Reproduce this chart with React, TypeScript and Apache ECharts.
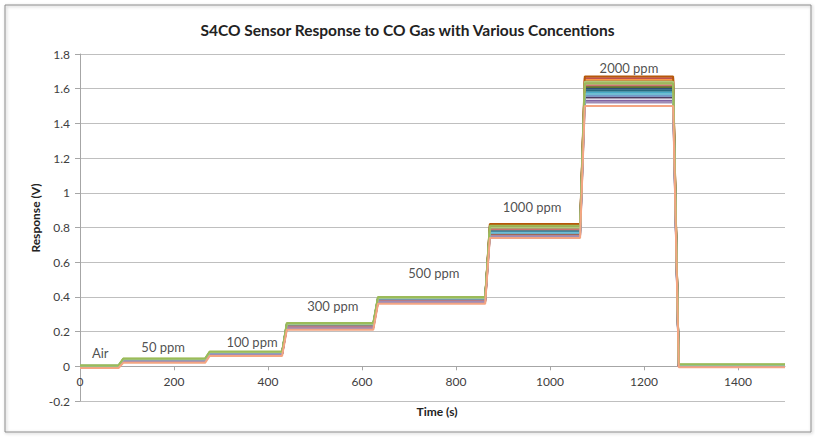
import React, { useEffect, useRef } from "react";
import * as echarts from "echarts";

// Time (s) at which each gas step begins: Air, 50, 100, 300, 500, 1000, 2000 ppm, Air again
const stepTimes = [0, 82, 266, 430, 624, 862, 1064, 1262];
const riseSec = [0, 10, 10, 10, 10, 10, 10, 12];
const endTime = 1500;

// Per-sensor plateau levels (V): [air, 50, 100, 300, 500, 1000, 2000, air]
const s01 = [0.0, 0.035, 0.075, 0.235, 0.385, 0.78, 1.57, 0.004];
const s02 = [-0.003, 0.032, 0.072, 0.23, 0.38, 0.8, 1.66, 0.002];
const s03 = [0.005, 0.045, 0.085, 0.25, 0.4, 0.81, 1.63, 0.012];
const s04 = [-0.002, 0.03, 0.07, 0.225, 0.375, 0.755, 1.53, 0.001];
const s05 = [0.002, 0.038, 0.078, 0.24, 0.39, 0.785, 1.58, 0.006];
const s06 = [-0.005, 0.03, 0.07, 0.22, 0.37, 0.76, 1.65, 0.0];
const s07 = [0.002, 0.037, 0.077, 0.24, 0.39, 0.79, 1.6, 0.005];
const s08 = [0.0, 0.036, 0.076, 0.235, 0.385, 0.81, 1.64, 0.003];
const s09 = [0.003, 0.04, 0.08, 0.245, 0.395, 0.79, 1.61, 0.008];
const s10 = [0.0, 0.033, 0.073, 0.23, 0.38, 0.765, 1.55, 0.002];
const s11 = [0.001, 0.036, 0.076, 0.235, 0.385, 0.775, 1.59, 0.004];
const s12 = [0.0, 0.035, 0.075, 0.235, 0.39, 0.82, 1.67, 0.005];
const s13 = [0.0, 0.034, 0.074, 0.23, 0.38, 0.77, 1.56, 0.003];
const s14 = [-0.004, 0.03, 0.07, 0.225, 0.375, 0.79, 1.62, 0.0];
const s15 = [0.004, 0.043, 0.083, 0.245, 0.395, 0.8, 1.64, 0.01];
const s16 = [-0.003, 0.028, 0.068, 0.22, 0.37, 0.75, 1.52, 0.0];
const s17 = [0.003, 0.039, 0.079, 0.242, 0.392, 0.77, 1.57, 0.007];
const s18 = [-0.01, 0.02, 0.06, 0.21, 0.36, 0.74, 1.5, -0.005];

const sensorLevels = [s01, s02, s04, s05, s06, s07, s08, s09, s10, s11, s12, s13, s14, s16, s17, s15, s03, s18];
const sensorColors = [
  "#4F81BD", "#C0504D", "#8064A2", "#4BACC6", "#F79646", "#2C4D75", "#772C2A", "#5F7530", "#4D3B62",
  "#276A7C", "#B65708", "#729ACA", "#CD7371", "#A08CB5", "#6FBDD1", "#AFC97A", "#9BBB59", "#F4A582",
];

// Annotation labels
const annoTexts = ["Air", "50 ppm", "100 ppm", "300 ppm", "500 ppm", "1000 ppm", "2000 ppm"];
const annoX = [43, 177, 366, 538, 753, 962, 1168];
const annoY = [0.075, 0.11, 0.14, 0.345, 0.54, 0.92, 1.72];

const xTicks = [0, 200, 400, 600, 800, 1000, 1200, 1400];

function buildPoints(levels: number[]) {
  const pts: number[][] = [[stepTimes[0], levels[0]]];
  for (let i = 1; i < stepTimes.length; i++) {
    pts.push([stepTimes[i], levels[i - 1]]);
    pts.push([stepTimes[i] + riseSec[i], levels[i]]);
  }
  pts.push([endTime, levels[levels.length - 1]]);
  return pts;
}

export default function App() {
  const ref = useRef<HTMLDivElement>(null);
  useEffect(() => {
    if (!ref.current) return;
    const chart = echarts.init(ref.current, null, { renderer: "svg" });
    const font = "Lato, 'Open Sans', sans-serif";
    const lineSeries = sensorLevels.map((lv, i) => ({
      type: "line",
      data: buildPoints(lv),
      showSymbol: false,
      symbol: "none",
      lineStyle: { width: 2, color: sensorColors[i] },
      itemStyle: { color: sensorColors[i] },
      z: 2,
    }));
    const gridTop = 54;
    const gridBottom = 37;
    const gridH = 438 - gridTop - gridBottom;
    const zeroOffset = -(gridH * (0.2 / 2.0));
    chart.setOption({
      animation: false,
      textStyle: { fontFamily: font },
      title: {
        text: "S4CO Sensor Response to CO Gas with Various Concentions",
        left: "center",
        top: 17,
        textStyle: { fontSize: 15.5, fontWeight: "bold", color: "#222", fontFamily: font },
      },
      grid: { left: 80, right: 30, top: gridTop, bottom: gridBottom },
      xAxis: {
        type: "value",
        min: 0,
        max: 1500,
        interval: 100,
        offset: zeroOffset,
        axisLine: { onZero: false, lineStyle: { color: "#A6A6A6" } },
        axisTick: { show: true, length: 4, customValues: xTicks, lineStyle: { color: "#A6A6A6" } },
        axisLabel: {
          customValues: xTicks,
          margin: 9,
          fontSize: 12,
          color: "#404040",
          fontFamily: font,
          formatter: (v: number) => String(v),
        },
        splitLine: { show: false },
      },
      yAxis: {
        type: "value",
        min: -0.2,
        max: 1.8,
        interval: 0.2,
        axisLine: { show: true, lineStyle: { color: "#A6A6A6" } },
        axisTick: { show: true, length: 5, lineStyle: { color: "#A6A6A6" } },
        axisLabel: { margin: 10, fontSize: 12, color: "#404040", fontFamily: font },
        splitLine: { show: true, lineStyle: { color: "#BFBFBF", width: 1 } },
      },
      series: [
        ...lineSeries,
        {
          type: "scatter",
          symbolSize: 0,
          z: 5,
          data: annoTexts.map((t, i) => ({ value: [annoX[i], annoY[i]], name: t })),
          label: {
            show: true,
            position: "inside",
            formatter: (p: any) => p.name,
            fontSize: 13,
            color: "#222",
            fontFamily: font,
          },
        },
      ],
      graphic: [
        {
          type: "rect",
          shape: { x: 5, y: 5, width: 806, height: 427 },
          style: { fill: "none", stroke: "#8C8C8C", lineWidth: 1, shadowBlur: 3, shadowColor: "rgba(0,0,0,0.3)", shadowOffsetX: 1, shadowOffsetY: 1 },
          z: -10,
          silent: true,
        },
        {
          type: "text",
          x: 35,
          y: 218,
          rotation: Math.PI / 2,
          style: { text: "Response (V)", fontSize: 12, fontWeight: "bold", fill: "#222", fontFamily: font, align: "center", verticalAlign: "middle" },
        },
        {
          type: "text",
          x: 437,
          y: 411,
          style: { text: "Time (s)", fontSize: 12, fontWeight: "bold", fill: "#222", fontFamily: font, align: "center", verticalAlign: "middle" },
        },
      ],
    });
    return () => chart.dispose();
  }, []);
  return (
    <div
      ref={ref}
      style={{ position: "absolute", left: 0, top: 0, width: 815, height: 438, background: "#fff" }}
    />
  );
}
